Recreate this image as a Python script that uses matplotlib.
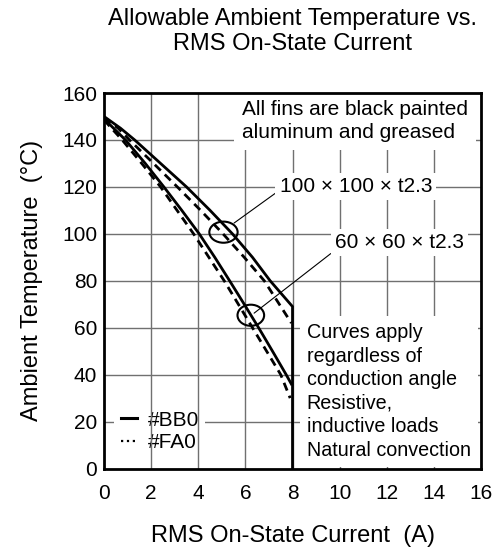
import matplotlib
matplotlib.use('Agg')
import matplotlib.pyplot as plt
from matplotlib.patches import Ellipse
from matplotlib.lines import Line2D

plt.rcParams['font.family'] = ['Liberation Sans', 'DejaVu Sans']

# RMS on-state current (A) vs allowable ambient temperature (C)
# 100 x 100 x t2.3 fin, #BB0 (solid), ends on the 8 A limit
bb0_100_i = [0, 0.7, 1.3, 2.4, 3.5, 4.5, 5.45, 6.3, 7.05, 8.0, 8.0]
bb0_100_t = [150, 145, 140, 130, 120, 110, 100, 90, 80, 69, 0]
# 100 x 100 x t2.3 fin, #FA0 (dashed)
fa0_100_i = [0, 0.6, 1.08, 2.1, 3.11, 4.1, 5.05, 5.95, 6.8, 7.95]
fa0_100_t = [149.5, 145, 140, 130, 120, 110, 100, 90, 80, 62]
# 60 x 60 x t2.3 fin, #BB0 (solid)
bb0_60_i = [0, 0.91, 1.75, 2.54, 3.3, 4.04, 4.7, 5.33, 5.95, 6.56, 7.15, 7.73, 7.95]
bb0_60_t = [149, 140, 130, 120, 110, 100, 90, 80, 70, 60, 50, 40, 36]
# 60 x 60 x t2.3 fin, #FA0 (dashed)
fa0_60_i = [0, 0.77, 1.6, 2.4, 3.1, 3.8, 4.45, 5.1, 5.7, 6.3, 6.9, 7.5, 7.9]
fa0_60_t = [148.5, 140, 130, 120, 110, 100, 90, 80, 70, 60, 50, 40, 30]

x_ticks = [0, 2, 4, 6, 8, 10, 12, 14, 16]
y_ticks = [0, 20, 40, 60, 80, 100, 120, 140, 160]

grid_col = '#707070'

fig = plt.figure(figsize=(5.03, 5.53), dpi=100)
ax = fig.add_axes([0.2068, 0.1528, 0.7495, 0.679])

ax.set_xlim(0, 16)
ax.set_ylim(0, 160)
ax.set_xticks(x_ticks)
ax.set_yticks(y_ticks)
ax.tick_params(axis='x', length=0, pad=11, labelsize=15)
ax.tick_params(axis='y', length=0, pad=5, labelsize=15)
for s in ax.spines.values():
    s.set_linewidth(2)
    s.set_zorder(6)

# grid drawn by hand so the text boxes can hide parts of it
for y in y_ticks[1:-1]:
    ax.axhline(y, color=grid_col, lw=1.0, zorder=1)
for x in x_ticks[1:-1]:
    ax.axvline(x, color=grid_col, lw=1.0, zorder=2.5)

# curves
ax.plot(bb0_100_i, bb0_100_t, color='k', lw=2.0, zorder=4, solid_joinstyle='miter')
ax.plot(fa0_100_i, fa0_100_t, color='k', lw=2.0, ls=(0, (3, 2)), zorder=4)
ax.plot(bb0_60_i, bb0_60_t, color='k', lw=2.0, zorder=4)
ax.plot(fa0_60_i, fa0_60_t, color='k', lw=2.0, ls=(0, (3, 2)), zorder=4)

# ellipses marking each fin pair
ax.add_patch(Ellipse((5.07, 100.7), 1.2, 9.0, fill=False, lw=1.5, zorder=5))
ax.add_patch(Ellipse((6.23, 65.3), 1.13, 9.0, fill=False, lw=1.5, zorder=5))

box = dict(facecolor='white', edgecolor='none', pad=3)
ax.text(5.86, 148, 'All fins are black painted\naluminum and greased',
        fontsize=15, ha='left', va='center', linespacing=1.25,
        bbox=dict(facecolor='white', edgecolor='none', pad=6), zorder=3)

ax.annotate('100 × 100 × t2.3', xy=(5.52, 104.6), xytext=(7.45, 120.2),
            fontsize=15, ha='left', va='center', bbox=box, zorder=3,
            arrowprops=dict(arrowstyle='-', lw=0.8, color='k',
                            shrinkA=0, shrinkB=0, relpos=(0, 0.3)))
ax.annotate('60 × 60 × t2.3', xy=(6.37, 66.2), xytext=(9.8, 96.2),
            fontsize=15, ha='left', va='center', bbox=box, zorder=3,
            arrowprops=dict(arrowstyle='-', lw=0.8, color='k',
                            shrinkA=0, shrinkB=0, relpos=(0, 0.1)))

ax.text(8.6, 32.8, 'Curves apply\nregardless of\nconduction angle\nResistive,\n'
        'inductive loads\nNatural convection',
        fontsize=14.2, ha='left', va='center', linespacing=1.3,
        bbox=dict(facecolor='white', edgecolor='none', pad=5), zorder=3)

handles = [Line2D([], [], color='k', lw=2.2),
           Line2D([], [], color='k', lw=1.6, ls=':')]
leg = ax.legend(handles, ['#BB0', '#FA0'], loc='lower left',
                bbox_to_anchor=(0.0, 0.0), fontsize=15, handlelength=0.8,
                handletextpad=0.5, labelspacing=0.15, borderpad=0.3,
                frameon=True, fancybox=False, framealpha=1)
leg.get_frame().set_edgecolor('none')
leg.set_zorder(2)

ax.set_xlabel('RMS On-State Current  (A)', fontsize=17, labelpad=16)
ax.set_ylabel('Ambient Temperature  (°C)', fontsize=17, labelpad=14)
ax.set_title('Allowable Ambient Temperature vs.\nRMS On-State Current',
             fontsize=17, pad=31, linespacing=1.15)

fig.savefig('out.png', dpi=100)
